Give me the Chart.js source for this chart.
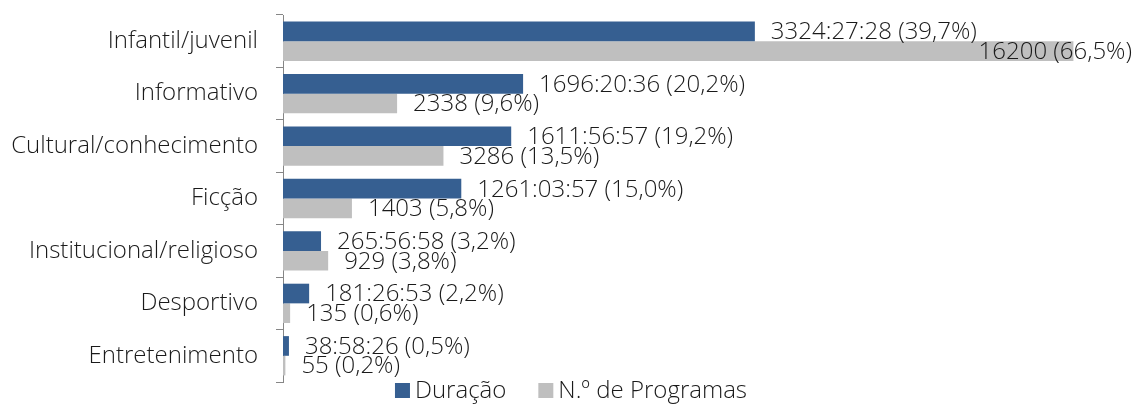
<!DOCTYPE html>
<html>
<head>
<meta charset="utf-8">
<script src="https://cdn.jsdelivr.net/npm/chart.js@4"></script>
<style>
  body { margin: 0; background: #fff; }
  #wrap { width: 1138px; height: 405px; }
</style>
</head>
<body>
<div id="wrap"><canvas id="chart" width="1138" height="405"></canvas></div>
<script>
const categories = ["Infantil/juvenil", "Informativo", "Cultural/conhecimento", "Ficção", "Institucional/religioso", "Desportivo", "Entretenimento"];
const durationText = ["3324:27:28", "1696:20:36", "1611:56:57", "1261:03:57", "265:56:58", "181:26:53", "38:58:26"];
const durationPct = [39.7, 20.2, 19.2, 15.0, 3.2, 2.2, 0.5];
const programCount = [16200, 2338, 3286, 1403, 929, 135, 55];
const programPct = [66.5, 9.6, 13.5, 5.8, 3.8, 0.6, 0.2];
const seriesNames = ["Duração", "N.º de Programas"];
const seriesColors = ["#365f91", "#bfbfbf"];

const FONT = "'Open Sans', sans-serif";
const WEIGHT = "300";
const SIZE = 24;
const TEXT = "#1a1a1a";

function pct(v) {
    return "(" + v.toFixed(1).replace(".", ",") + "%)";
}

const barLabels = [
    durationText.map((t, i) => t + " " + pct(durationPct[i])),
    programCount.map((n, i) => n + " " + pct(programPct[i]))
];

// value labels past the bar ends, plus the legend under the axis
const extras = {
    id: "extras",
    afterDatasetsDraw(chart) {
        const ctx = chart.ctx;
        ctx.save();
        ctx.font = WEIGHT + " " + SIZE + "px " + FONT;
        ctx.fillStyle = TEXT;
        ctx.textBaseline = "middle";
        chart.data.datasets.forEach((ds, i) => {
            const meta = chart.getDatasetMeta(i);
            meta.data.forEach((bar, j) => {
                const text = barLabels[i][j];
                const w = ctx.measureText(text).width;
                let x = bar.x + 16;
                if (x + w > chart.width - 6) x = chart.width - 6 - w;
                ctx.fillText(text, x, bar.y + 1);
            });
        });

        // legend
        const box = 15, gapIn = 5, gapOut = 32;
        const widths = seriesNames.map(n => ctx.measureText(n).width);
        const total = widths.reduce((a, w) => a + box + gapIn + w, 0) + gapOut;
        let x = 571 - total / 2;
        const y = 390;
        seriesNames.forEach((name, i) => {
            ctx.fillStyle = seriesColors[i];
            ctx.fillRect(x, y - 7, box, box);
            ctx.fillStyle = TEXT;
            ctx.fillText(name, x + box + gapIn, y + 1);
            x += box + gapIn + widths[i] + gapOut;
        });
        ctx.restore();
    }
};

new Chart(document.getElementById("chart"), {
    type: "bar",
    data: {
        labels: categories,
        datasets: [{
            label: seriesNames[0],
            data: durationPct,
            backgroundColor: seriesColors[0],
            categoryPercentage: 0.75,
            barPercentage: 1
        }, {
            label: seriesNames[1],
            data: programPct,
            backgroundColor: seriesColors[1],
            categoryPercentage: 0.75,
            barPercentage: 1
        }]
    },
    options: {
        indexAxis: "y",
        responsive: false,
        animation: false,
        layout: { padding: { top: 15, right: 23, bottom: 23, left: 0 } },
        scales: {
            x: {
                display: false,
                min: 0,
                max: 70
            },
            y: {
                afterFit: s => {
                    s.width = 283;
                    s.paddingTop = 0;
                    s.paddingBottom = 0;
                },
                grid: {
                    offset: true,
                    drawOnChartArea: false,
                    tickLength: 7,
                    color: "#868686"
                },
                border: { color: "#868686", width: 1 },
                ticks: {
                    color: TEXT,
                    padding: 18,
                    font: { family: FONT, size: SIZE, weight: WEIGHT }
                }
            }
        },
        plugins: {
            legend: { display: false },
            tooltip: { enabled: false }
        }
    },
    plugins: [extras]
});
</script>
</body>
</html>
